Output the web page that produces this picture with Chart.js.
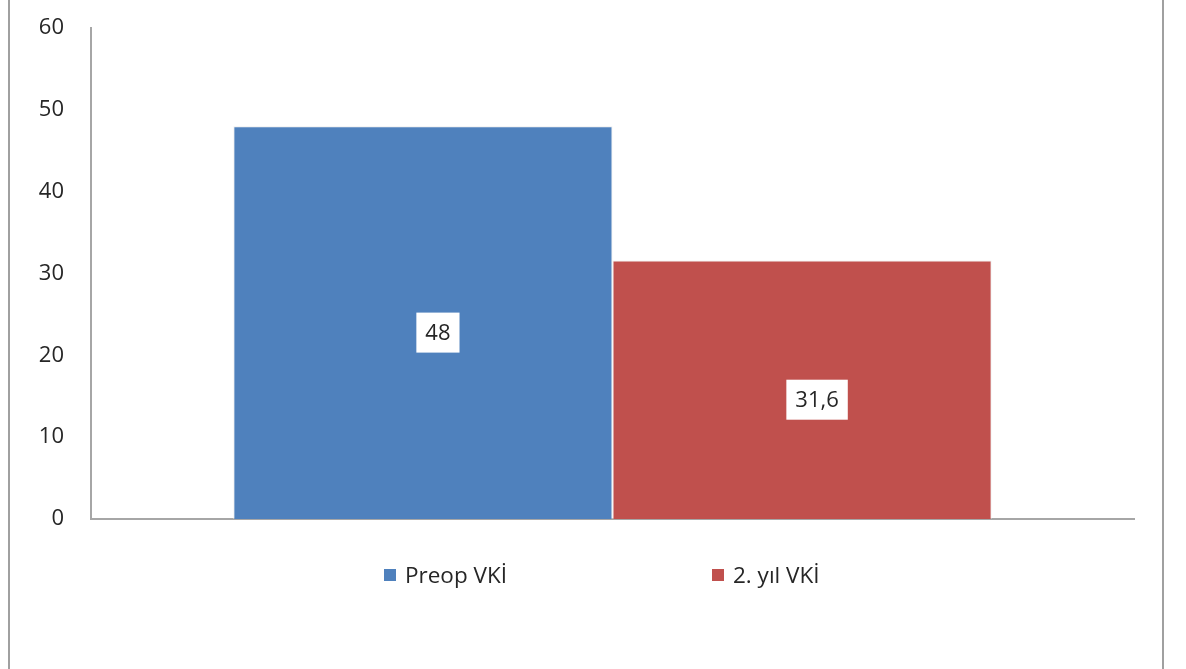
<!DOCTYPE html>
<html>
<head>
<meta charset="utf-8">
<script src="https://cdn.jsdelivr.net/npm/chart.js@4"></script>
<style>
html,body{margin:0;padding:0;background:#fff;}
#wrap{position:relative;width:1186px;height:669px;}
#frame{position:absolute;left:8px;top:0;width:1152px;height:669px;border-left:2px solid #a0a0a0;border-right:2px solid #a0a0a0;pointer-events:none;}
canvas{position:absolute;left:0;top:0;}
.lg{position:absolute;top:562px;height:26px;font:22.5px "Open Sans",sans-serif;color:#262626;line-height:26px;white-space:nowrap;}
.lg span.sw{display:inline-block;width:12px;height:12px;margin-right:9px;vertical-align:middle;position:relative;top:-2px;}
</style>
</head>
<body>
<div id="wrap">
<canvas id="c" width="1186" height="669"></canvas>
<div id="frame"></div>
<div id="legend"></div>
</div>
<script>
const categories = [''];
const seriesNames = ['Preop VKİ', '2. yıl VKİ'];
const seriesColors = ['#4F81BD', '#C0504D'];
const preopValues = [48];
const year2Values = [31.6];
const yTicks = [0, 10, 20, 30, 40, 50, 60];

const FONT = '"Open Sans", sans-serif';

const labelPlugin = {
  id: 'boxLabels',
  afterDatasetsDraw(chart) {
    const ctx = chart.ctx;
    ctx.save();
    ctx.font = '22px ' + FONT;
    ctx.textAlign = 'center';
    ctx.textBaseline = 'middle';
    chart.data.datasets.forEach((ds, i) => {
      const meta = chart.getDatasetMeta(i);
      meta.data.forEach((bar, j) => {
        const v = ds.data[j];
        const txt = String(v).replace('.', ',');
        const cx = bar.x + 15;
        const cy = (bar.y + bar.base) / 2 + 10;
        const w = ctx.measureText(txt).width + 18;
        const h = 40;
        ctx.fillStyle = '#ffffff';
        ctx.fillRect(cx - w / 2, cy - h / 2, w, h);
        ctx.fillStyle = '#262626';
        ctx.fillText(txt, cx, cy + 1);
      });
    });
    ctx.restore();
  }
};

const chart = new Chart(document.getElementById('c'), {
  type: 'bar',
  data: {
    labels: categories,
    datasets: [
      { label: seriesNames[0], data: preopValues, backgroundColor: seriesColors[0], borderColor: 'rgba(235,235,235,0.9)', borderWidth: 1 },
      { label: seriesNames[1], data: year2Values, backgroundColor: seriesColors[1], borderColor: 'rgba(235,235,235,0.9)', borderWidth: 1 }
    ]
  },
  options: {
    responsive: false,
    animation: false,
    events: [],
    layout: { padding: { top: 28, right: 52, bottom: 150, left: 0 } },
    datasets: { bar: { barPercentage: 1, categoryPercentage: 0.727 } },
    plugins: {
      tooltip: { enabled: false },
      legend: { display: false }
    },
    scales: {
      x: {
        grid: { display: false },
        border: { display: true, color: '#a6a6a6', width: 2 },
        ticks: { display: false },
        afterFit(scale) { scale.height = 0; scale.paddingLeft = 0; scale.paddingRight = 0; }
      },
      y: {
        min: 0, max: 60,
        afterBuildTicks(scale) { scale.ticks = yTicks.map(v => ({ value: v })); },
        grid: { display: false, drawTicks: false },
        border: { display: true, color: '#a6a6a6', width: 2 },
        ticks: { padding: 27, color: '#262626', font: { family: FONT, size: 22 } },
        afterFit(scale) { scale.width = 91; scale.paddingTop = 0; scale.paddingBottom = 0; }
      }
    }
  },
  plugins: [labelPlugin]
});

// HTML legend built from the chart's datasets
const legendLeft = [384, 712];
const lg = document.getElementById('legend');
chart.data.datasets.forEach((ds, i) => {
  const d = document.createElement('div');
  d.className = 'lg';
  d.style.left = legendLeft[i] + 'px';
  const sw = document.createElement('span');
  sw.className = 'sw';
  sw.style.background = ds.backgroundColor;
  d.appendChild(sw);
  d.appendChild(document.createTextNode(ds.label));
  lg.appendChild(d);
});
</script>
</body>
</html>
